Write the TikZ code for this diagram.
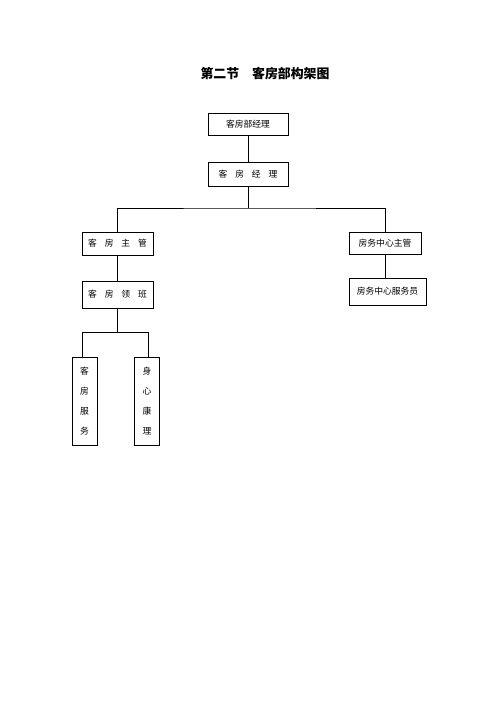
\documentclass[tikz,border=0pt]{standalone}
\usepackage{fontspec}
\setmainfont{Noto Sans CJK SC}
\usetikzlibrary{positioning}
\tikzset{
  box/.style={draw, line width=0.6pt, inner sep=0pt, align=center,
    font=\fontsize{7.5}{9}\selectfont},
  vbox/.style={box, minimum width=0.75cm, minimum height=2.64cm,
    font=\fontsize{7.5}{17}\selectfont},
  link/.style={line width=0.6pt}
}
\newcommand{\gap}{\hspace{0.9em}}
\begin{document}
\begin{tikzpicture}[x=0.03cm,y=-0.03cm]
\useasboundingbox (0,0) rectangle (500,707);

\node[font=\bfseries\fontsize{11}{13}\selectfont] (title) at (265,74) {第二节\hspace{1em}客房部构架图};

% top of the tree
\node[box, minimum width=2.4cm, minimum height=0.66cm] (bjl) at (248,124) {客房部经理};
\node[box, minimum width=2.4cm, minimum height=0.72cm] (kjl) at (248,174) {客\gap 房\gap 经\gap 理};

% second level
\node[box, minimum width=2.13cm, minimum height=0.69cm] (kzg) at (117.5,243.5) {客\gap 房\gap 主\gap 管};
\node[box, minimum width=2.16cm, minimum height=0.66cm] (fzg) at (385,243) {房务中心主管};

% third level
\node[box, minimum width=2.13cm, minimum height=0.81cm] (klb) at (117.5,294.5) {客\gap 房\gap 领\gap 班};
\node[box, minimum width=2.31cm, minimum height=0.81cm] (fwy) at (387.5,291.5) {房务中心服务员};

% bottom
\node[vbox] (kfw) at (84.5,401) {客\\房\\服\\务};
\node[vbox] (sxk) at (147,401) {身\\心\\康\\理};

\coordinate (bar) at (248,208);
\coordinate (bar2) at (117.5,332);
\coordinate (bar2l) at (82,332);
\coordinate (bar2r) at (148,332);

\draw[link] (bjl) -- (kjl);
\draw[link] (kjl) -- (bar);
\draw[link] (kzg.north) |- (bar) -| (fzg.north);
\draw[link] (kzg) -- (klb);
\draw[link] (fzg.south) -- (fwy.north -| fzg.south);
\draw[link] (klb) -- (bar2);
\draw[link] (bar2l |- kfw.north) -- (bar2l) -- (bar2r) -- (bar2r |- sxk.north);
\end{tikzpicture}
\end{document}
